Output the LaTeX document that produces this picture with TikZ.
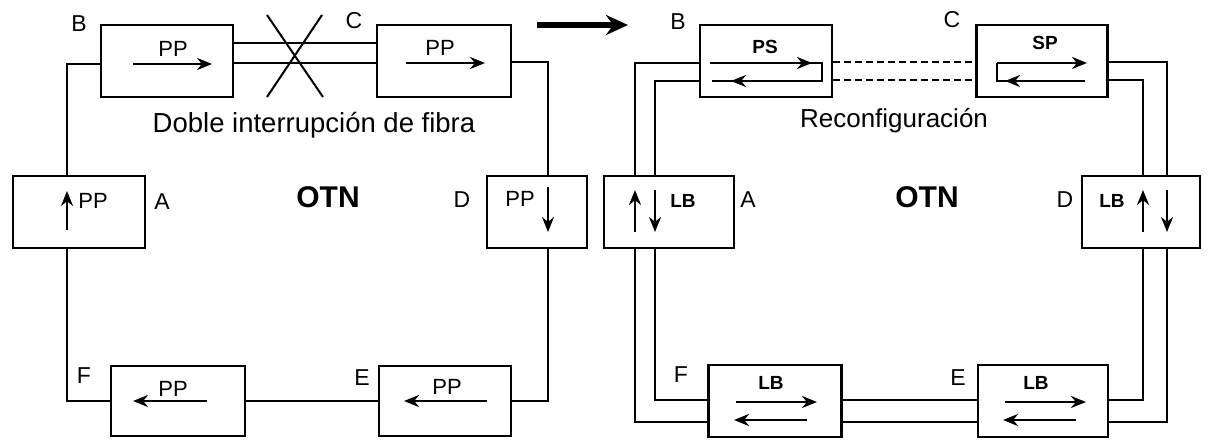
\documentclass[tikz,border=0pt]{standalone}
\usepackage{fontspec}
\setmainfont{Liberation Sans}
\usetikzlibrary{arrows.meta,calc}
\newcommand\txtbig{\fontsize{27.5}{30}\selectfont}
\newcommand\txtmid{\fontsize{26}{28}\selectfont}
\newcommand\txtotn{\fontsize{30}{32}\selectfont\bfseries}
\newcommand\txtlbl{\fontsize{23}{25}\selectfont}
\newcommand\txtpp{\fontsize{22}{24}\selectfont}
\newcommand\txtsm{\fontsize{19}{21}\selectfont\bfseries}
\tikzset{
  box/.style={draw,line width=2.8pt,rectangle,inner sep=0pt,minimum height=72pt},
  ring/.style={line width=2.5pt},
  arr/.style={line width=2.8pt,-{Stealth[length=15pt,width=12pt]}},
  lbl/.style={inner sep=0pt,font=\txtlbl},
  pp/.style={inner sep=0pt,font=\txtpp},
  sm/.style={inner sep=0pt,font=\txtsm},
}
\begin{document}
\begin{tikzpicture}[x=1pt,y=-1pt]
\useasboundingbox (0,0) rectangle (1217,439);
% ---------------- left ring ----------------
\node[box,minimum width=132pt] (lB) at (167,61) {};
\node[box,minimum width=134pt] (lC) at (444,61) {};
\node[box,minimum width=132pt] (lA) at (79,212) {};
\node[box,minimum width=100pt] (lD) at (537,212) {};
\node[box,minimum width=134pt,minimum height=70pt] (lF) at (178,401) {};
\node[box,minimum width=132pt,minimum height=70pt] (lE) at (445,401) {};
\node[lbl] (lBl) at (79,24) {B};
\node[lbl] (lCl) at (354,21) {C};
\node[lbl] (lAl) at (162,202) {A};
\node[lbl] (lDl) at (462,200) {D};
\node[lbl] (lFl) at (84,376) {F};
\node[lbl] (lEl) at (362,378) {E};
\node[pp] (lBt) at (173,49) {PP};
\node[pp] (lCt) at (440,48) {PP};
\node[pp] (lAt) at (93,201) {PP};
\node[pp] (lDt) at (520,199) {PP};
\node[pp] (lFt) at (173,389) {PP};
\node[pp] (lEt) at (447,387) {PP};
\coordinate (l1) at (67,64);
\coordinate (l2) at (67,401);
\coordinate (l3) at (548,401);
\coordinate (l4) at (548,62);
\coordinate (lt1) at (300,43);
\coordinate (lt2) at (300,63);
\draw[ring] (lB.west |- l1) -- (l1) -- (l1 |- lA.north);
\draw[ring] (l1 |- lA.south) -- (l2) -- (l2 -| lF.west);
\draw[ring] (lF.east) -- (lE.west);
\draw[ring] (lE.east |- l3) -- (l3) -- (l3 |- lD.south);
\draw[ring] (l3 |- lD.north) -- (l4) -- (l4 -| lC.east);
\draw[ring] (lB.east |- lt1) -- (lC.west |- lt1);
\draw[ring] (lB.east |- lt2) -- (lC.west |- lt2);
\draw[line width=2pt] (267,15) -- (323,97);
\draw[line width=2pt] (322,15) -- (267,97);
\draw[arr] (133,64) -- (212,64);
\draw[arr] (406,63) -- (485,63);
\draw[arr] (67,230) -- (67,191);
\draw[arr] (548,187) -- (548,232);
\draw[arr] (207,401) -- (133,401);
\draw[arr] (487,401) -- (404,401);
\node[inner sep=0pt,anchor=base,font=\txtbig] (lcap) at (314,132) {Doble interrupción de fibra};
\node[inner sep=0pt,anchor=base,font=\txtotn] (lotn) at (328,207) {OTN};
% ---------------- big arrow ----------------
\coordinate (ga) at (537,25);
\coordinate (gb) at (628,25);
\draw[line width=5.5pt,-{Stealth[length=22pt,width=20pt]}] (ga) -- (gb);
% ---------------- right ring ----------------
\node[box,minimum width=132pt] (rB) at (766,61) {};
\node[box,minimum width=131pt] (rC) at (1042,61) {};
\node[box,minimum width=130pt] (rA) at (669,212) {};
\node[box,minimum width=118pt] (rD) at (1141,212) {};
\node[box,minimum width=133pt] (rF) at (775,401) {};
\node[box,minimum width=130pt] (rE) at (1043,401) {};
\node[lbl] (rBl) at (678,22) {B};
\node[lbl] (rCl) at (952,20) {C};
\node[lbl] (rAl) at (748,200) {A};
\node[lbl] (rDl) at (1065,200) {D};
\node[lbl] (rFl) at (681,375) {F};
\node[lbl] (rEl) at (958,378) {E};
\node[sm] (rBt) at (765,47) {PS};
\node[sm] (rCt) at (1045,43) {SP};
\node[sm] (rAt) at (683,201) {LB};
\node[sm] (rDt) at (1112,201) {LB};
\node[sm] (rFt) at (771,383) {LB};
\node[sm] (rEt) at (1036,383) {LB};
\coordinate (ro1) at (635,63);
\coordinate (ro2) at (635,422);
\coordinate (ro3) at (1167,422);
\coordinate (ro4) at (1167,62);
\coordinate (ri1) at (655,81);
\coordinate (ri2) at (655,400);
\coordinate (ri3) at (1143,400);
\coordinate (ri4) at (1143,80);
% outer loop
\draw[ring] (rB.west |- ro1) -- (ro1) -- (ro1 |- rA.north);
\draw[ring] (ro1 |- rA.south) -- (ro2) -- (ro2 -| rF.west);
\draw[ring] (rF.east |- ro2) -- (rE.west |- ro2);
\draw[ring] (rE.east |- ro3) -- (ro3) -- (ro3 |- rD.south);
\draw[ring] (ro3 |- rD.north) -- (ro4) -- (ro4 -| rC.east);
% inner loop
\draw[ring] (rB.west |- ri1) -- (ri1) -- (ri1 |- rA.north);
\draw[ring] (ri1 |- rA.south) -- (ri2) -- (ri2 -| rF.west);
\draw[ring] (rF.east |- ri2) -- (rE.west |- ri2);
\draw[ring] (rE.east |- ri3) -- (ri3) -- (ri3 |- rD.south);
\draw[ring] (ri3 |- rD.north) -- (ri4) -- (ri4 -| rC.east);
% broken span
\draw[ring,dash pattern=on 7pt off 4pt] (rB.east |- ro4) -- (rC.west |- ro4);
\draw[ring,dash pattern=on 7pt off 4pt] (rB.east |- ri4) -- (rC.west |- ri4);
% arrows inside boxes
\draw[arr] (635,232) -- (635,190);
\draw[arr] (655,190) -- (655,232);
\draw[arr] (1143,232) -- (1143,190);
\draw[arr] (1167,190) -- (1167,232);
\draw[arr] (736,402) -- (817,402);
\draw[arr] (807,420) -- (734,420);
\draw[arr] (1005,402) -- (1086,402);
\draw[arr] (1076,420) -- (1003,420);
\draw[arr] (710,63) -- (812,63);
\draw[line width=2.6pt] (810,63) -- (822,63) -- (822,81) -- (712,81);
\draw[arr] (770,81) -- (731,81);
\draw[arr] (997,63) -- (1087,63);
\draw[line width=2.6pt] (997,63) -- (997,81) -- (1010,81);
\draw[arr] (1085,81) -- (1005,81);
\node[inner sep=0pt,anchor=base,font=\txtmid] (rcap) at (894,127) {Reconfiguración};
\node[inner sep=0pt,anchor=base,font=\txtotn] (rotn) at (927,207) {OTN};
\end{tikzpicture}
\end{document}
